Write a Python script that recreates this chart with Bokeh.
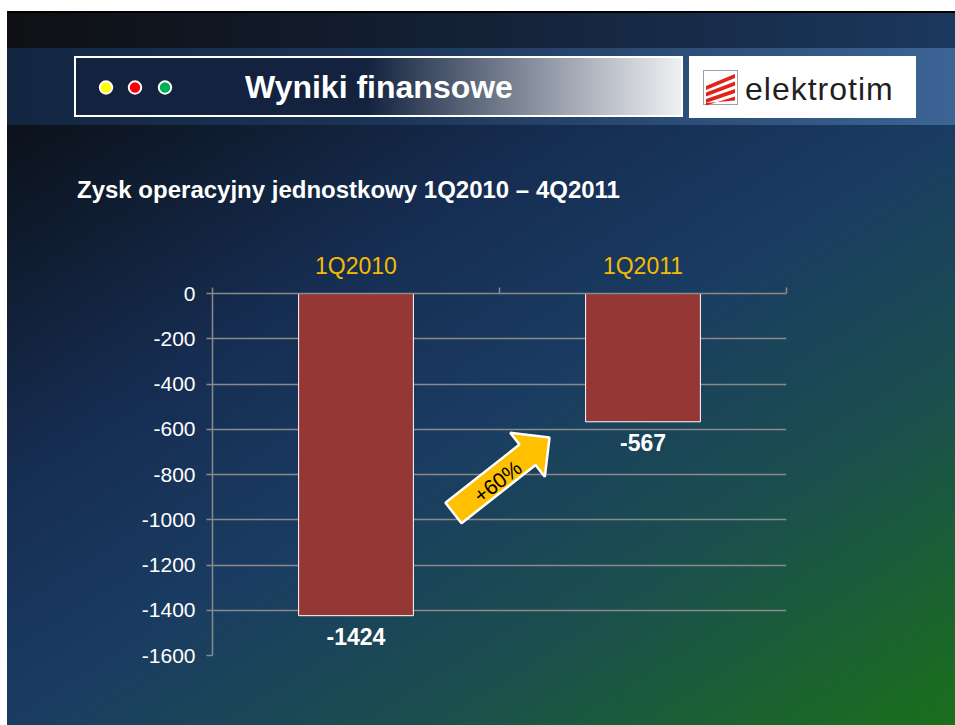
import math
import html
from bokeh.plotting import figure
from bokeh.layouts import column
from bokeh.models import (LinearAxis, FixedTicker, Label, Range1d, Div, GlobalInlineStyleSheet)
from bokeh.embed import file_html
from bokeh.resources import INLINE
from bokeh.core.properties import value

# ---------------- data ----------------
categories = ["1Q2010", "1Q2011"]
operating_profit = [-1424, -567]
y_ticks = [0, -200, -400, -600, -800, -1000, -1200, -1400, -1600]
y_tick_labels = ["0", "-200", "-400", "-600", "-800", "-1000", "-1200", "-1400", "-1600"]
change_label = "+60%"
slide_title = "Wyniki finansowe"
chart_title = "Zysk operacyjny jednostkowy 1Q2010 \u2013 4Q2011"
logo_text = "elektrotim"
dot_colors = ["#ffff00", "#ff0000", "#00b050"]

# ---------------- layout ----------------
W, H = 955, 725
HH = 230                              # header height
CH = H - HH                           # chart figure height
FL, FR, FT, FB = 212, 786, 293, 655   # chart frame edges in page px
XMAX = len(categories)
YMIN, YMAX = min(y_ticks), max(y_ticks)

FONT = value("Liberation Sans")
GRID = "#8a8a8a"

def sx(X):   # page px -> chart data x
    return (X - FL) / (FR - FL) * XMAX

def sy(Y):   # page px -> chart data y
    return YMAX - (Y - FT) / (FB - FT) * (YMAX - YMIN)

bg_layers = [
    "linear-gradient(#ffffff,#ffffff) 0 0 / 100% 11px no-repeat",
    "linear-gradient(#ffffff,#ffffff) 0 0 / 7px 100% no-repeat",
    "linear-gradient(#000000,#000000) 0 11px / 100% 2px no-repeat",
    # title box inner + border
    "linear-gradient(to right, #13233f 0%, #13233f 48%, #eff0f3 100%) 76px 58px / 605px 57px no-repeat",
    "linear-gradient(#ffffff,#ffffff) 74px 56px / 609px 61px no-repeat",
    # logo box
    "linear-gradient(#ffffff,#ffffff) 689px 56px / 227px 62px no-repeat",
    # header bands
    "linear-gradient(to right, #0e1013 0%, #131f33 45%, #1b385e 100%) 0 13px / 100% 35px no-repeat",
    "linear-gradient(to right, #132640 0%, #1b3558 40%, #3c6494 100%) 0 48px / 100% 77px no-repeat",
    # main background
    "linear-gradient(to bottom right, #0b1119 0%, #162d52 30%, #1a3c62 50%, #1b4f4e 72%, #1a701b 100%) 0 125px / 100% 600px no-repeat",
]

# ---------------- header (inline SVG in a Div) ----------------
e = html.escape
parts = ['<svg xmlns="http://www.w3.org/2000/svg" width="%d" height="%d" style="display:block">' % (W, HH)]
for cx, col in zip([106, 135, 165], dot_colors):
    parts.append('<circle cx="%s" cy="87.5" r="6.2" fill="%s" stroke="#ffffff" stroke-width="2"/>' % (cx, col))
parts.append('<text x="245" y="98" font-family="Liberation Sans, Arial, sans-serif" font-weight="bold" '
             'font-size="32px" fill="#ffffff">%s</text>' % e(slide_title))
parts.append('<rect x="703.5" y="70.5" width="34" height="34" fill="#ffffff" stroke="#a0a0a0" stroke-width="1"/>')
for i in range(4):
    yl, yr = 86 + 6.5 * i, 74 + 7.5 * i
    pts = [(706, yl), (735, yr), (735, min(yr + 4, 103)), (706, min(yl + 4, 103))]
    parts.append('<polygon points="%s" fill="#e2231a"/>' % " ".join("%g,%g" % q for q in pts))
parts.append('<text x="745" y="100" font-family="Open Sans, sans-serif" font-size="32px" letter-spacing="1" '
             'fill="#231f20">%s</text>' % e(logo_text))
parts.append('<text x="77" y="198" font-family="Liberation Sans, Arial, sans-serif" font-weight="bold" '
             'font-size="24px" fill="#ffffff">%s</text>' % e(chart_title).replace("\u2013", "&#8211;"))
parts.append('</svg>')
header = Div(text="".join(parts), width=W, height=HH, margin=0,
             styles={"overflow": "hidden", "padding": "0"})

# ---------------- chart figure ----------------
p = figure(width=W, height=CH, output_backend="svg", toolbar_location=None,
           x_range=Range1d(0, XMAX), y_range=Range1d(YMIN, YMAX),
           min_border_left=FL, min_border_right=W - FR,
           min_border_top=FT - HH, min_border_bottom=H - FB,
           x_axis_location=None, y_axis_location=None, title=None)
p.background_fill_color = None
p.border_fill_color = None
p.outline_line_color = None

cat_x = [i + 0.5 for i in range(len(categories))]
bounds = [i for i in range(len(categories) + 1)]

ax_top = LinearAxis(ticker=FixedTicker(ticks=cat_x, minor_ticks=bounds),
                    major_label_overrides={x: c for x, c in zip(cat_x, categories)})
ax_top.axis_line_color = GRID
ax_top.axis_line_width = 1.5
ax_top.major_tick_line_color = None
ax_top.major_tick_out = 0
ax_top.major_tick_in = 0
ax_top.minor_tick_line_color = GRID
ax_top.minor_tick_line_width = 1.5
ax_top.minor_tick_out = 6
ax_top.minor_tick_in = 0
ax_top.major_label_text_color = "#f7bb00"
ax_top.major_label_text_font = "Liberation Sans"
ax_top.major_label_text_font_size = "23px"
ax_top.major_label_standoff = 9
p.add_layout(ax_top, "above")

ax_left = LinearAxis(ticker=FixedTicker(ticks=y_ticks, minor_ticks=[]),
                     major_label_overrides={t: s for t, s in zip(y_ticks, y_tick_labels)})
ax_left.axis_line_color = GRID
ax_left.axis_line_width = 1.5
ax_left.major_tick_line_color = GRID
ax_left.major_tick_line_width = 1.5
ax_left.major_tick_out = 6
ax_left.major_tick_in = 0
ax_left.minor_tick_line_color = None
ax_left.major_label_text_color = "white"
ax_left.major_label_text_font = "Liberation Sans"
ax_left.major_label_text_font_size = "21px"
ax_left.major_label_standoff = 11
p.add_layout(ax_left, "left")

p.ygrid.ticker = FixedTicker(ticks=y_ticks)
p.ygrid.grid_line_color = GRID
p.ygrid.grid_line_width = 1.5
p.xgrid.grid_line_color = None

p.vbar(x=cat_x, top=0, bottom=operating_profit, width=0.4,
       fill_color="#953735", line_color="white", line_width=1)

p.text(x=cat_x, y=operating_profit, text=[str(v) for v in operating_profit],
       text_font=FONT, text_font_style="bold", text_font_size="23px",
       text_color="white", text_align="center", text_baseline="middle", y_offset=21)

# arrow annotation (page px geometry converted to data)
tail = (453.0, 512.5)
tip = (549.0, 437.0)
L = math.hypot(tip[0] - tail[0], tip[1] - tail[1])
ux, uy = (tip[0] - tail[0]) / L, (tip[1] - tail[1]) / L
nx, ny = -uy, ux
w, hw, hl = 13.0, 28.0, 28.0
bx, by = tip[0] - hl * ux, tip[1] - hl * uy
pts = [(tail[0] + w * nx, tail[1] + w * ny), (bx + w * nx, by + w * ny),
       (bx + hw * nx, by + hw * ny), tip,
       (bx - hw * nx, by - hw * ny), (bx - w * nx, by - w * ny),
       (tail[0] - w * nx, tail[1] - w * ny)]
p.patch([sx(a) for a, b in pts], [sy(b) for a, b in pts],
        fill_color="#ffc000", line_color="white", line_width=2.5)
p.add_layout(Label(x=sx(497), y=sy(481), text=change_label, angle=38, angle_units="deg",
                   text_font="Liberation Sans", text_font_size="21px", text_color="black",
                   text_align="center", text_baseline="middle"))

layout = column(header, p, spacing=0)
layout.styles = {"background": ", ".join(bg_layers)}
layout.stylesheets = [GlobalInlineStyleSheet(css="html, body { overflow: hidden; }")]

open("out.html", "w", encoding="utf-8").write(file_html(layout, INLINE))
